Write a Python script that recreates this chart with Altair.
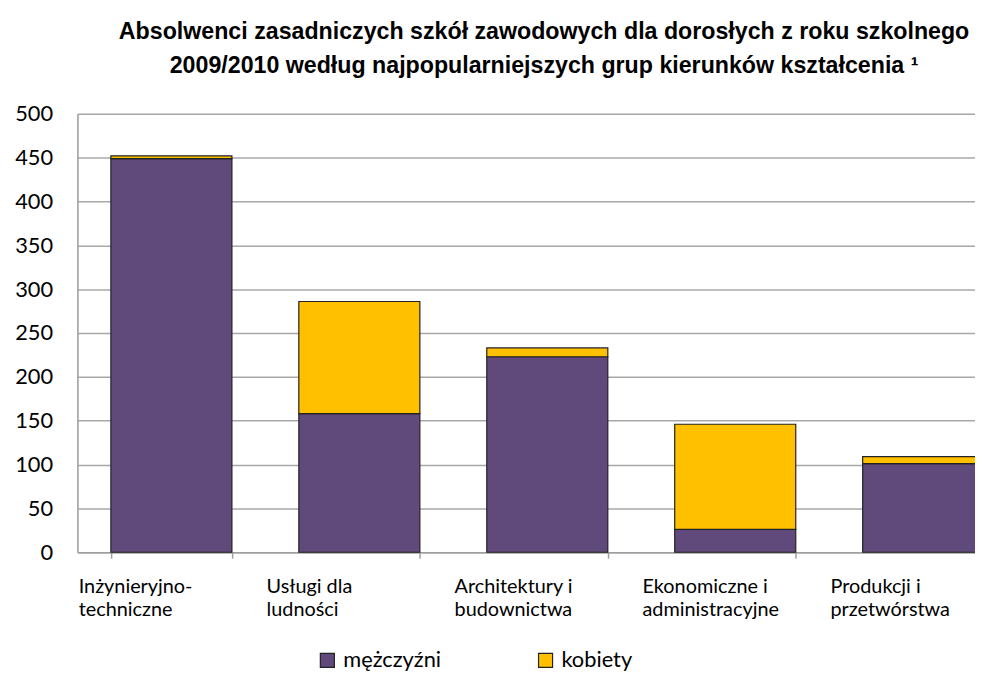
import altair as alt
import pandas as pd

categories = [
    "Inżynieryjno-\ntechniczne",
    "Usługi dla\nludności",
    "Architektury i\nbudownictwa",
    "Ekonomiczne i\nadministracyjne",
    "Produkcji i\nprzetwórstwa",
]
series = ["mężczyźni", "kobiety"]
men = [449, 158, 223, 26, 101]
women = [3, 128, 10, 120, 8]
colors = ["#604A7B", "#FFC000"]
y_ticks = [0, 50, 100, 150, 200, 250, 300, 350, 400, 450, 500]

rows = []
for i, c in enumerate(categories):
    rows.append({"kat": c, "plec": series[0], "ord": 0, "val": men[i]})
    rows.append({"kat": c, "plec": series[1], "ord": 1, "val": women[i]})
df = pd.DataFrame(rows)

chart = (
    alt.Chart(df)
    .mark_bar(stroke="#222222", strokeWidth=1.2)
    .encode(
        x=alt.X(
            "kat:N",
            sort=categories,
            title=None,
            scale=alt.Scale(range=[0, 947.5], paddingInner=0.356, paddingOuter=0.178),
            axis=alt.Axis(
                labelAngle=0,
                labelExpr="split(datum.label, '\\n')",
                labelAlign="left",
                labelBaseline="top",
                labelFont="Lato",
                labelFontSize=20,
                labelLineHeight=23,
                labelColor="#000000",
                labelPadding=19,
                labelOffset=-94,
                tickBand="extent",
                tickSize=6,
                tickColor="#A0A0A0",
                tickWidth=1.5,
                domainColor="#A0A0A0",
                domainWidth=1.5,
                grid=False,
            ),
        ),
        y=alt.Y(
            "val:Q",
            stack="zero",
            title=None,
            scale=alt.Scale(domain=[0, 500], nice=False),
            axis=alt.Axis(
                values=y_ticks,
                labelFont="Lato",
                labelFontSize=22,
                labelColor="#000000",
                labelPadding=25,
                ticks=False,
                domainColor="#A0A0A0",
                domainWidth=1.5,
                gridColor="#A8A8A8",
                gridWidth=1.5,
            ),
        ),
        color=alt.Color(
            "plec:N",
            sort=series,
            scale=alt.Scale(domain=series, range=colors),
            legend=alt.Legend(
                title=None,
                orient="none",
                legendX=241,
                legendY=540,
                direction="horizontal",
                symbolType="square",
                symbolSize=200,
                symbolStrokeColor="#222222",
                symbolStrokeWidth=1.2,
                symbolOpacity=1,
                labelFont="Lato",
                labelFontSize=22,
                labelColor="#000000",
                labelOffset=5,
                columnPadding=94,
            ),
        ),
        order=alt.Order("ord:Q"),
    )
    .properties(
        width=905,
        height=442,
        autosize=alt.AutoSizeParams(type="none"),
        padding={"left": 70, "top": 104, "right": 0, "bottom": 118},
        title=alt.TitleParams(
            text=[
                "Absolwenci zasadniczych szkół zawodowych dla dorosłych z roku szkolnego",
                "2009/2010 według najpopularniejszych grup kierunków kształcenia ¹",
            ],
            font="Liberation Sans",
            fontSize=23.4,
            fontWeight="bold",
            color="#000000",
            anchor="middle",
            dx=18,
            offset=25,
            lineHeight=34,
        ),
    )
    .configure_view(stroke=None)
    .configure(background="white")
)

chart.save("out.html", embed_options={"renderer": "svg", "actions": False})
